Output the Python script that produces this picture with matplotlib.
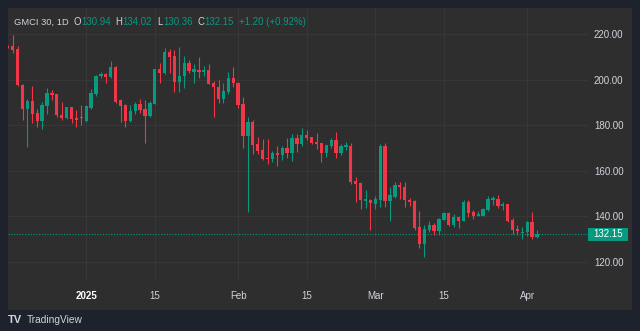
import matplotlib
matplotlib.use("Agg")
import matplotlib.pyplot as plt
import matplotlib.dates as mdates
from matplotlib.patches import Rectangle
import pandas as pd
import numpy as np

plt.rcParams['font.family'] = ['Liberation Sans', 'DejaVu Sans']

# ---- data (daily candles, first one partially clipped at the left edge) ----
start_date = "2024-12-16"
opens = [215, 214.7, 213.7, 197.6, 187.3, 190.7, 185.3, 182, 188.6, 194.3,
         193.8, 184.5, 183.2, 188, 183.3, 183.6, 182, 187.7, 193.8, 201.8,
         202.7, 201.2, 205.6, 191, 188.9, 181.8, 186.2, 189.4, 187.2, 184.1,
         189.5, 204.7, 203.1, 212.1, 210.5, 198.9, 201.7, 207.3, 203.6, 204.4,
         203.6, 204.4, 198.5, 197, 191.6, 194.5, 200.7, 198.7, 189.2, 175.3,
         181.6, 171.8, 169.1, 165.8, 165.3, 167.7, 166.9, 169.9, 168, 174.4,
         171.8, 175.7, 174.9, 172.8, 172.1, 167.8, 171, 173.5, 167.7, 170.6,
         171, 155.5, 154.5, 146.9, 147.2, 145.4, 147.2, 171, 146.7, 148.6,
         154, 153, 147.3, 146.7, 135.3, 127.7, 134.1, 136.2, 133.7, 138.5,
         141.4, 136.2, 139.8, 138.1, 146.4, 142, 140.3, 140.3, 142.8, 147.3,
         147.6, 144.5, 145.4, 138.5, 134.3, 132.8, 133.2, 137.7, 130.94]
highs = [215.5, 219.6, 214.7, 198, 191.7, 197.3, 187, 190.2, 196.4, 195.5,
         194, 190.2, 188.3, 188.3, 186.9, 188.8, 188.8, 196.1, 202.2, 203.4,
         203, 208.3, 206, 191.6, 189.3, 188.8, 190.2, 191.4, 191.1, 190.8,
         205, 207.3, 214, 213.4, 213.1, 214.3, 210.5, 208.8, 206.9, 210.2,
         206.1, 206.9, 199.5, 200, 198.7, 203.3, 205.5, 199.1, 192.3, 183.5,
         182.3, 175, 174.1, 174.1, 168.7, 171, 171, 174.5, 176.2, 176.2,
         179, 177.9, 175, 176.6, 172.3, 171.6, 174.4, 177.2, 171.8, 172.8,
         172.2, 157.4, 155.2, 151.6, 147.5, 149.1, 171.8, 172.3, 153, 155.2,
         155.2, 154.9, 148.1, 147.1, 142.3, 136.2, 137.9, 136.9, 139.3, 142,
         142, 140.9, 140, 147, 147, 142.8, 142.3, 143.5, 149.1, 148.9,
         149.4, 146.4, 145.6, 139.4, 136.2, 135.4, 138.1, 142, 134.02]
lows = [214, 211.8, 197.1, 182.5, 170.3, 181, 179.3, 178.5, 185.1, 191.3,
        183.5, 182.5, 182.8, 181, 179.1, 180.3, 181.5, 187.4, 192.7, 200.7,
        198.6, 200.7, 190, 181.3, 179.3, 181.5, 184.8, 185.6, 172.4, 183.8,
        189.2, 198.5, 202.7, 202.9, 194.8, 194.8, 196.5, 202.9, 198.5, 200.7,
        201.7, 198, 183.8, 189.9, 189.9, 193.8, 197, 187.8, 169.9, 142,
        167.4, 167.4, 164.7, 163, 164, 162.2, 164.7, 165.8, 164.4, 168.4,
        170.8, 173.5, 172, 169.6, 163.7, 166.2, 170.2, 165.5, 166.9, 169.3,
        154.3, 146.2, 143.1, 143.8, 134, 143.2, 144.2, 144.2, 137.9, 148,
        147.6, 144.2, 144.7, 134, 125.9, 122.2, 133.2, 131.8, 131.8, 138.3,
        135.6, 135.4, 134.7, 137.9, 139.6, 138.8, 140, 140.1, 142.5, 145,
        143.5, 142.8, 137.6, 132.1, 131.8, 130, 131.4, 130, 130.36]
closes = [214.5, 213.2, 197.6, 187.3, 190.8, 185, 182, 188.9, 194.3, 193.4,
          184.4, 183.2, 188, 183, 182.5, 183.3, 188.4, 194.2, 201.8, 202.7,
          201.1, 205.6, 190.5, 188.6, 181.8, 186.3, 189.4, 186.9, 184.1, 190,
          204.6, 203, 212.1, 210.2, 199.2, 201.7, 207.3, 204, 204.6, 203.6,
          204.4, 198.3, 196.7, 191.6, 195.1, 200.7, 198.5, 188.9, 175.3, 181.6,
          171.3, 168.7, 165.3, 165.2, 167.7, 166.9, 169.9, 168, 174.4, 171.8,
          175.7, 174.5, 172.4, 171.8, 167.8, 171.3, 173.5, 168, 171, 171.6,
          155.2, 154.3, 147.2, 147.5, 145.7, 147.6, 171, 146.7, 149.4, 153.9,
          152.9, 147.2, 146.4, 135, 127.7, 134.4, 136.2, 133.7, 138.7, 141.4,
          136.2, 139.8, 138.1, 146.4, 141.3, 140.3, 140.9, 143.2, 147.6, 147.9,
          144.5, 145.4, 138.1, 134, 133.4, 133.2, 137.7, 130.95, 132.15]
y_ticks = [120, 140, 160, 180, 200, 220]
x_tick_dates = ["2025-01-01", "2025-01-15", "2025-02-01", "2025-02-15",
                "2025-03-01", "2025-03-15", "2025-04-01"]
x_tick_labels = ["2025", "15", "Feb", "15", "Mar", "15", "Apr"]
last_price = 132.15

# ---- style ----
UP = "#089981"
DOWN = "#f23645"
OUTER = "#1e222d"
PANEL = "#2e2e2e"
GRID = "#383838"
TEXT = "#d1d4dc"

W, H = 640, 331
fig = plt.figure(figsize=(W / 100, H / 100), dpi=100)
fig.patch.set_facecolor(OUTER)

# panel background
fig.patches.append(Rectangle((8 / W, 1 - 310 / H), (632 - 8) / W, (310 - 8) / H,
                             transform=fig.transFigure, facecolor=PANEL,
                             edgecolor="none", zorder=-5))

ax = fig.add_axes([8 / W, 1 - 281 / H, (588 - 8) / W, (281 - 8) / H])
ax.set_zorder(2)
ax.set_facecolor(PANEL)
for s in ax.spines.values():
    s.set_visible(False)

dates = pd.date_range(start_date, periods=len(opens), freq="D")
x = mdates.date2num(dates.to_pydatetime())
o = np.array(opens); h = np.array(highs); l = np.array(lows); c = np.array(closes)
up = c >= o
cols = np.where(up, UP, DOWN)

ax.vlines(x, l, h, colors=cols, linewidth=0.8, zorder=3)
body_bottom = np.minimum(o, c)
body_h = np.maximum(np.abs(c - o), 0.45)
ax.bar(x, body_h, bottom=body_bottom, width=0.68, color=cols, zorder=4,
       linewidth=0)

# axis ranges
x1 = x[1]
ax.set_xlim(x1 - 0.96, x1 + 117.4)
ax.set_ylim(111.6, 231.6)

# grid
ax.set_yticks(y_ticks)
ax.set_yticklabels([f"{v:.2f}" for v in y_ticks])
tick_x = mdates.date2num(pd.to_datetime(x_tick_dates).to_pydatetime())
ax.set_xticks(tick_x)
ax.set_xticklabels(x_tick_labels)
ax.grid(True, color=GRID, linewidth=0.7, zorder=0)
ax.set_axisbelow(True)
ax.yaxis.tick_right()
ax.tick_params(axis="y", length=0, pad=4.3, labelsize=7, labelcolor=TEXT)
ax.tick_params(axis="x", length=0, pad=7.0, labelsize=7, labelcolor=TEXT)
ax.get_xticklabels()[0].set_fontweight("bold")
ax.get_xticklabels()[0].set_color("#ffffff")

# last price line and label
ax.axhline(last_price, color=UP, linewidth=0.8, linestyle=(0, (1, 1.5)), zorder=2)
y_px = ax.transData.transform((0, last_price))[1]
box_h = 13
fig.patches.append(Rectangle((588 / W, (y_px - box_h / 2) / H), 40 / W, box_h / H,
                             transform=fig.transFigure, facecolor=UP,
                             edgecolor="none", zorder=5))
fig.text(608 / W, y_px / H, f"{last_price:.2f}", color="white", fontsize=7,
         ha="center", va="center", zorder=6)

# header
hy = 1 - 22.3 / H
parts = [
    (14, "GMCI 30, 1D", TEXT),
    (73, "O", TEXT), (81, "130.94", UP),
    (115, "H", TEXT), (122, "134.02", UP),
    (157, "L", TEXT), (163, "130.36", UP),
    (197, "C", TEXT), (204, "132.15", UP),
    (239, "+1.20 (+0.92%)", UP),
]
for px, s, col in parts:
    fs = 6.75 if px == 14 else 6.9
    fig.text(px / W, hy, s, color=col, fontsize=fs, ha="left", va="center")

# TradingView footer
fig.text(8 / W, 1 - 320 / H, "TV", color="#d1d4dc", fontsize=8, fontweight="bold",
         ha="left", va="center")
fig.text(27 / W, 1 - 320 / H, "TradingView", color="#d1d4dc", fontsize=7.3,
         ha="left", va="center")

fig.savefig("out.png", dpi=100, facecolor=fig.get_facecolor())
